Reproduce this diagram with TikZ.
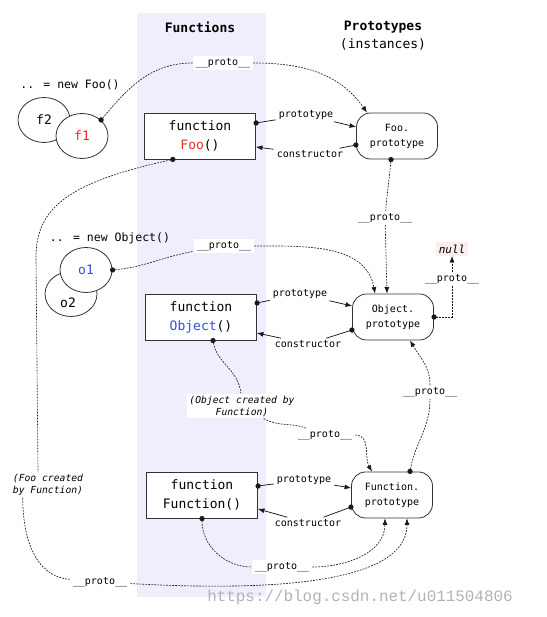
\documentclass[tikz,border=0pt]{standalone}
\usepackage{fontspec}
\setmainfont{DejaVu Sans Mono}
\newfontfamily\wmfont{Liberation Mono}
\usepackage{tikz}
\usetikzlibrary{arrows.meta,shapes.geometric}
\definecolor{bandcol}{RGB}{238,238,252}
\definecolor{fooRed}{RGB}{228,48,40}
\definecolor{objBlue}{RGB}{48,80,230}
\definecolor{nullbg}{RGB}{252,238,236}
\tikzstyle{funcbox}=[draw=black!80, line width=0.8pt, fill=white, minimum width=111pt, minimum height=46pt, align=center, font=\fontsize{13pt}{19pt}\selectfont]
\tikzstyle{protobox}=[draw=black!80, line width=0.8pt, fill=white, rounded corners=14pt, minimum width=81pt, minimum height=46pt, align=center, font=\fontsize{10pt}{15pt}\selectfont]
\tikzstyle{inst}=[ellipse, draw=black!80, line width=0.8pt, fill=white, minimum width=52pt, minimum height=45pt, inner sep=0pt, font=\fontsize{13pt}{15pt}\selectfont]
\tikzstyle{lbl}=[fill=white, inner xsep=3pt, inner ysep=2pt, font=\fontsize{10pt}{12pt}\selectfont]
\tikzstyle{note}=[fill=white, inner sep=2pt, font=\fontsize{9.7pt}{12pt}\selectfont\itshape]
\tikzstyle{link}=[draw=black!90, line width=0.75pt]
\tikzstyle{plink}=[draw=black!90, line width=0.65pt, dash pattern=on 1.8pt off 1.2pt]
\tikzstyle{src}=[{Circle[length=5.2pt]}-, shorten <=-2.4pt]
\tikzstyle{dst}=[-{Latex[length=6.5pt,width=5pt]}]
\newcommand{\pr}{\_\_proto\_\_}

\begin{document}
\begin{tikzpicture}[x=1pt, y=1pt, font=\fontsize{11.5pt}{13pt}\selectfont]
    \useasboundingbox (0,0) rectangle (546,617);
    % the Functions column
    \fill[bandcol, rounded corners=2pt] (137,20) rectangle (266,604);
    \node (tfun) at (200,590) {\bfseries\fontsize{13pt}{18pt}\selectfont Functions};
    \node[align=center, font=\fontsize{13pt}{18pt}\selectfont] (tproto) at (383,581) {\bfseries Prototypes\\(instances)};

    % instances
    \node (newfoo) at (70,532) {.. = new Foo()};
    \node[inst] (f2) at (44,497) {f2};
    \node[inst] (f1) at (82,481) {\textcolor{fooRed}{f1}};
    \node (newobj) at (110,379) {.. = new Object()};
    \node[inst, label={[font=\fontsize{13pt}{15pt}\selectfont, xshift=-3pt, yshift=-9pt]center:o2}] (o2) at (71,323) {};
    \node[inst] (o1) at (86,347) {\textcolor{objBlue}{o1}};

    % functions and their prototypes
    \node[funcbox] (foo) at (200,481) {function\\\textcolor{fooRed}{Foo}()};
    \node[funcbox] (obj) at (201,300) {function\\\textcolor{objBlue}{Object}()};
    \node[funcbox] (fun) at (202,122) {function\\Function()};
    \node[protobox] (foop) at (397,481) {Foo.\\prototype};
    \node[protobox] (objp) at (393,300) {Object.\\prototype};
    \node[protobox] (funp) at (392,122) {Function.\\prototype};
    \node[fill=nullbg, inner xsep=3pt, inner ysep=2.5pt, font=\fontsize{11pt}{13pt}\selectfont\itshape] (null) at (452,368) {null};

    % labels
    \foreach \pos/\name in {{(223,554)/ptop}, {(385,399)/pfoo}, {(224,371)/pobj}, {(452,338)/pnull}, {(325,182)/pobjf}, {(430,225)/pfunp}, {(100,35)/pfooby}, {(282,50)/pfun}}
        \node[lbl] (\name) at \pos {\pr};
    \foreach \pos/\name in {{(306,502)/rfoo}, {(300,323)/robj}, {(304,137)/rfun}}
        \node[lbl] (\name) at \pos {prototype};
    \foreach \pos/\name in {{(310,463)/cfoo}, {(308,273)/cobj}, {(308,94)/cfun}}
        \node[lbl] (\name) at \pos {constructor};
    \node[note, align=center] (objby) at (242,211) {(Object created by\\Function)};
    \node[note, align=left] (fooby) at (48,132) {(Foo created\\by Function)};

    % prototype and constructor links
    \draw[link,src] ([yshift=13pt]foo.east) -- (rfoo);
    \draw[link,dst] (rfoo) -- ([yshift=9pt]foop.west);
    \draw[link,src] ([yshift=-9pt]foop.west) -- (cfoo);
    \draw[link,dst] (cfoo) -- ([yshift=-11pt]foo.east);
    \draw[link,src] ([yshift=14pt]obj.east) -- (robj);
    \draw[link,dst] (robj) -- ([yshift=11pt]objp.west);
    \draw[link,src] ([yshift=-13pt]objp.west) -- (cobj);
    \draw[link,dst] (cobj) -- ([yshift=-16pt]obj.east);
    \draw[link,src] ([yshift=9pt]fun.east) -- (rfun);
    \draw[link,dst] (rfun) -- ([yshift=7pt]funp.west);
    \draw[link,src] ([yshift=-12pt]funp.west) -- (cfun);
    \draw[link,dst] (cfun) -- ([yshift=-14pt]fun.east);

    % __proto__ chains
    \draw[plink,src] (f1.40) to[out=50,in=180] (ptop);
    \draw[plink,dst] (ptop) to[out=0,in=125] ([xshift=-30pt]foop.north);
    \draw[plink,src] ([xshift=-6pt]foop.south) to[out=-95,in=85] (pfoo);
    \draw[plink,dst] (pfoo) -- ([xshift=-6pt]objp.north);
    \draw[plink,src] (o1.east) to[out=5,in=190] (pobj);
    \draw[plink,dst] (pobj) to[out=0,in=100] ([xshift=-18pt]objp.north);
    \draw[plink,src] (objp.east) -| (pnull);
    \draw[plink,dst] (pnull) -- (null);
    \draw[plink,src] ([xshift=12pt]obj.south) to[out=-80,in=95] (objby);
    \draw[plink] (objby) to[out=-30,in=160] (pobjf);
    \draw[plink,dst] (pobjf) to[out=0,in=120] ([xshift=-20pt]funp.north);
    \draw[plink,src] ([xshift=18pt]funp.north) to[out=80,in=-90] (pfunp);
    \draw[plink,dst] (pfunp) to[out=90,in=-60] ([xshift=17pt]objp.south);
    \draw[plink,src] (fun.south) to[out=-90,in=180] (pfun);
    \draw[plink,dst] (pfun) to[out=0,in=-90] ([xshift=-7pt]funp.south);
    \draw[plink,src] ([xshift=-27pt]foo.south) .. controls (70,435) and (36,410) .. (36,360) -- ([xshift=-10pt]fooby.north);
    \draw[plink] ([xshift=12pt]fooby.south west) to[out=-90,in=175] (pfooby);
    \draw[plink,dst] (pfooby) to[out=-3,in=-90,looseness=0.7] ([xshift=15pt]funp.south);

    \node[text=black!30, font=\wmfont\fontsize{15.9pt}{18pt}\selectfont] (wm) at (360,20) {https://blog.csdn.net/u011504806};
\end{tikzpicture}
\end{document}
